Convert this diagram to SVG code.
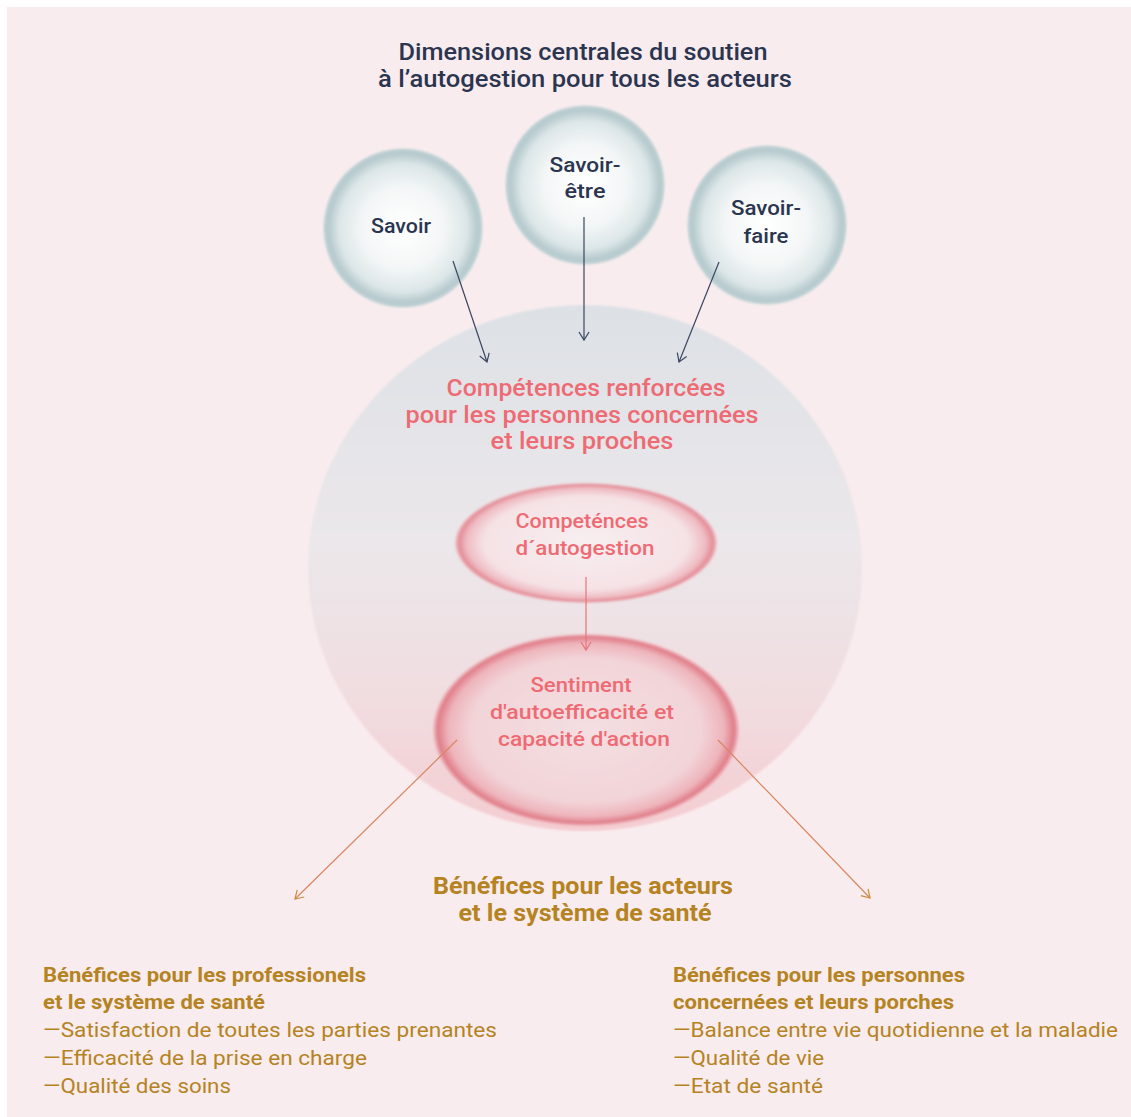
<svg xmlns="http://www.w3.org/2000/svg" width="1131" height="1117" viewBox="0 0 1131 1117">
<style>
.t{font-family:Roboto,"Liberation Sans",sans-serif;text-anchor:middle}
.navy{fill:#2b3550;font-weight:500}
.coral{fill:#ee6b74;font-weight:500}
.gold{fill:#b5831f}
.b{font-weight:700}
.l{font-family:Roboto,"Liberation Sans",sans-serif;fill:#b5831f}
</style>
<defs>
<radialGradient id="gSmall" cx="0.5" cy="0.5" r="0.5">
<stop offset="0" stop-color="#ffffff"/>
<stop offset="0.5" stop-color="#f4f7f7"/>
<stop offset="0.8" stop-color="#dce6e8"/>
<stop offset="0.93" stop-color="#b6cacd"/>
<stop offset="0.98" stop-color="#bccfd2"/>
<stop offset="1" stop-color="#d4e0e2" stop-opacity="0.4"/>
</radialGradient>
<linearGradient id="gBig" x1="0" y1="0" x2="0" y2="1">
<stop offset="0" stop-color="#dde1e6"/>
<stop offset="0.45" stop-color="#ebe7ea"/>
<stop offset="0.75" stop-color="#f1dde0"/>
<stop offset="1" stop-color="#f4ccd1"/>
</linearGradient>
<radialGradient id="gE1" cx="0.5" cy="0.5" r="0.5">
<stop offset="0" stop-color="#f8eef0"/>
<stop offset="0.78" stop-color="#f5e2e5"/>
<stop offset="0.91" stop-color="#efbcc3"/>
<stop offset="0.97" stop-color="#e48d97"/>
<stop offset="1" stop-color="#eeb3ba" stop-opacity="0.6"/>
</radialGradient>
<radialGradient id="gE2" cx="0.5" cy="0.5" r="0.5">
<stop offset="0" stop-color="#f4dfe2"/>
<stop offset="0.75" stop-color="#f2d4d8"/>
<stop offset="0.9" stop-color="#eeb5bc"/>
<stop offset="0.97" stop-color="#e07d89"/>
<stop offset="1" stop-color="#eeaeb5" stop-opacity="0.6"/>
</radialGradient>
<filter id="soft" x="-10%" y="-10%" width="120%" height="120%">
<feGaussianBlur stdDeviation="1.2"/>
</filter>
<marker id="aNavy" markerWidth="12" markerHeight="12" refX="10" refY="6" orient="auto" markerUnits="userSpaceOnUse">
<path d="M2,1 L10,6 L2,11" fill="none" stroke="#3a4560" stroke-width="1.2"/>
</marker>
<marker id="aCoral" markerWidth="12" markerHeight="12" refX="10" refY="6" orient="auto" markerUnits="userSpaceOnUse">
<path d="M2,1 L10,6 L2,11" fill="none" stroke="#e8737c" stroke-width="1.2"/>
</marker>
<marker id="aGold" markerWidth="12" markerHeight="12" refX="10" refY="6" orient="auto" markerUnits="userSpaceOnUse">
<path d="M2,1 L10,6 L2,11" fill="none" stroke="#c98c3c" stroke-width="1.2"/>
</marker>
</defs>
<rect x="0" y="0" width="1131" height="1117" fill="#ffffff"/>
<rect x="7" y="7" width="1124" height="1110" fill="#f9ecee"/>

<g id="title">
<text class="t navy" x="583" y="60" font-size="23" textLength="369" lengthAdjust="spacingAndGlyphs">Dimensions centrales du soutien</text>
<text class="t navy" x="585" y="87" font-size="23" textLength="414" lengthAdjust="spacingAndGlyphs">à l’autogestion pour tous les acteurs</text>
</g>

<g id="node-competences-renforcees">
<ellipse cx="585" cy="568" rx="277" ry="263" fill="url(#gBig)" filter="url(#soft)"/>
<text class="t coral" x="586" y="396" font-size="23" textLength="279" lengthAdjust="spacingAndGlyphs">Compétences renforcées</text>
<text class="t coral" x="582" y="423" font-size="23" textLength="353" lengthAdjust="spacingAndGlyphs">pour les personnes concernées</text>
<text class="t coral" x="582" y="449" font-size="23" textLength="183" lengthAdjust="spacingAndGlyphs">et leurs proches</text>
</g>

<g id="node-savoir">
<circle cx="403" cy="228" r="80" fill="url(#gSmall)" filter="url(#soft)"/>
<text class="t navy" x="401" y="233" font-size="20" textLength="60" lengthAdjust="spacingAndGlyphs">Savoir</text>
</g>
<g id="node-savoir-etre">
<circle cx="585" cy="185" r="80" fill="url(#gSmall)" filter="url(#soft)"/>
<text class="t navy" x="585" y="172" font-size="20" textLength="71" lengthAdjust="spacingAndGlyphs">Savoir-</text>
<text class="t navy" x="585" y="198" font-size="20" textLength="41" lengthAdjust="spacingAndGlyphs">être</text>
</g>
<g id="node-savoir-faire">
<circle cx="767" cy="225" r="80" fill="url(#gSmall)" filter="url(#soft)"/>
<text class="t navy" x="766" y="215" font-size="20" textLength="70" lengthAdjust="spacingAndGlyphs">Savoir-</text>
<text class="t navy" x="766" y="243" font-size="20" textLength="45" lengthAdjust="spacingAndGlyphs">faire</text>
</g>

<g id="node-competences-autogestion">
<ellipse cx="586" cy="543" rx="131" ry="60" fill="url(#gE1)" filter="url(#soft)"/>
<text class="t coral" x="582" y="528" font-size="20" textLength="133" lengthAdjust="spacingAndGlyphs">Competénces</text>
<text class="t coral" x="585" y="555" font-size="20" textLength="139" lengthAdjust="spacingAndGlyphs">d´autogestion</text>
</g>

<g id="node-sentiment">
<ellipse cx="586" cy="730" rx="153" ry="96" fill="url(#gE2)" filter="url(#soft)"/>
<text class="t coral" x="581" y="692" font-size="20" textLength="101" lengthAdjust="spacingAndGlyphs">Sentiment</text>
<text class="t coral" x="582" y="719" font-size="20" textLength="184" lengthAdjust="spacingAndGlyphs">d'autoefficacité et</text>
<text class="t coral" x="584" y="746" font-size="20" textLength="172" lengthAdjust="spacingAndGlyphs">capacité d'action</text>
</g>

<g id="node-benefices">
<text class="t gold b" x="583" y="894" font-size="23" textLength="300" lengthAdjust="spacingAndGlyphs">Bénéfices pour les acteurs</text>
<text class="t gold b" x="585" y="921" font-size="23" textLength="253" lengthAdjust="spacingAndGlyphs">et le système de santé</text>
</g>

<g id="node-benefices-professionels">
<text class="l b" x="43" y="982" font-size="20" textLength="323" lengthAdjust="spacingAndGlyphs">Bénéfices pour les professionels</text>
<text class="l b" x="43" y="1009" font-size="20" textLength="222" lengthAdjust="spacingAndGlyphs">et le système de santé</text>
<text class="l" x="43" y="1037" font-size="20" textLength="454" lengthAdjust="spacingAndGlyphs">—Satisfaction de toutes les parties prenantes</text>
<text class="l" x="43" y="1065" font-size="20" textLength="324" lengthAdjust="spacingAndGlyphs">—Efficacité de la prise en charge</text>
<text class="l" x="43" y="1093" font-size="20" textLength="188" lengthAdjust="spacingAndGlyphs">—Qualité des soins</text>
</g>

<g id="node-benefices-personnes">
<text class="l b" x="673" y="982" font-size="20" textLength="292" lengthAdjust="spacingAndGlyphs">Bénéfices pour les personnes</text>
<text class="l b" x="673" y="1009" font-size="20" textLength="281" lengthAdjust="spacingAndGlyphs">concernées et leurs porches</text>
<text class="l" x="673" y="1037" font-size="20" textLength="445" lengthAdjust="spacingAndGlyphs">—Balance entre vie quotidienne et la maladie</text>
<text class="l" x="673" y="1065" font-size="20" textLength="151" lengthAdjust="spacingAndGlyphs">—Qualité de vie</text>
<text class="l" x="673" y="1093" font-size="20" textLength="150" lengthAdjust="spacingAndGlyphs">—Etat de santé</text>
</g>

<g id="connectors" fill="none" stroke-width="1.2">
<line x1="453" y1="261" x2="487" y2="362" stroke="#3a4560" marker-end="url(#aNavy)"/>
<line x1="584" y1="217" x2="584" y2="340" stroke="#3a4560" marker-end="url(#aNavy)"/>
<line x1="719" y1="262" x2="679" y2="362" stroke="#3a4560" marker-end="url(#aNavy)"/>
<line x1="586" y1="577" x2="586" y2="650" stroke="#e8737c" marker-end="url(#aCoral)"/>
<line x1="457" y1="740" x2="295" y2="899" stroke="#d98660" marker-end="url(#aGold)"/>
<line x1="718" y1="740" x2="870" y2="898" stroke="#d98660" marker-end="url(#aGold)"/>
</g>
</svg>
